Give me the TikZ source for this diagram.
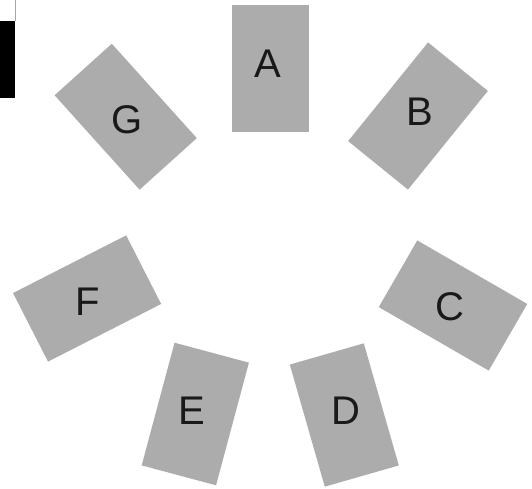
\documentclass[tikz,border=0pt]{standalone}
\usepackage{fontspec}
\setmainfont{Liberation Sans}
\begin{document}
\begin{tikzpicture}[x=1pt,y=-1pt,
  card/.style={fill=cardgray,draw=none,minimum width=77pt,minimum height=127pt,inner sep=0pt},
  letter/.style={font=\fontsize{40}{40}\selectfont,inner sep=0pt,text=black!90}]
\definecolor{cardgray}{RGB}{172,172,172}
\useasboundingbox (0,0) rectangle (532,488);
% top-left fragment
\draw[gray!70,line width=1pt] (15,0) -- (15,21);
\fill[black] (0,21) rectangle (15,98);
% cards
\node[card,rotate=0]   (rA) at (270.8,68.4) {};
\node[card,rotate=-39] (rB) at (418,116) {};
\node[card,rotate=60]  (rC) at (453,305.5) {};
\node[card,rotate=16]  (rD) at (344.3,415) {};
\node[card,rotate=-15] (rE) at (195.3,414) {};
\node[card,rotate=-63] (rF) at (87.1,298.5) {};
\node[card,rotate=42]  (rG) at (125.7,116.7) {};
% labels
\node[letter] (A) at (268,64) {A};
\node[letter] (B) at (419.5,112) {B};
\node[letter] (C) at (449.7,306.7) {C};
\node[letter] (D) at (345.5,411) {D};
\node[letter] (E) at (191.7,410.8) {E};
\node[letter] (F) at (87.7,301.7) {F};
\node[letter] (G) at (127.5,120) {G};
\end{tikzpicture}
\end{document}
